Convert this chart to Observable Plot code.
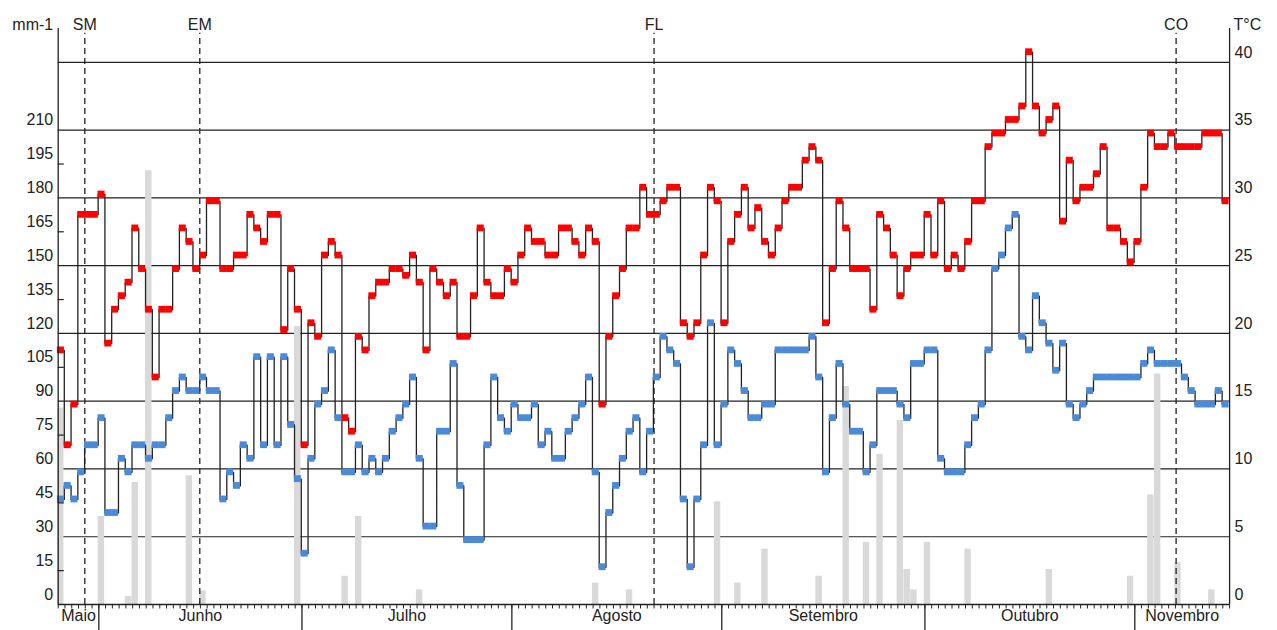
<!DOCTYPE html>
<html><head><meta charset="utf-8">
<script src="https://cdn.jsdelivr.net/npm/d3@7"></script>
<script src="https://cdn.jsdelivr.net/npm/@observablehq/plot@0.6"></script>
<style>body{margin:0;background:#fff} svg{display:block}</style>
</head><body><div id="chart"></div>
<script>
// daily maximum temperature (°C), day 0 = 26 May
const tmax = [19,12,15,29,29,29,30.5,19.5,22,23,24,28,25,22,17,22,22,25,28,27,25,26,30,30,25,25,26,26,29,28,
  27,29,29,20.5,25,22,12,21,20,26,27,26,14,13,20,19,23,24,24,25,25,24.5,26,24,19,25,24,23,24,20,
  20,23,28,24,23,23,25,24,26,28,27,27,26,26,28,28,27,26,28,27,15,20,23,25,28,28,31,29,29,30,
  31,31,21,20,21,26,31,30,21,27,29,31,28,29.5,27,26,28,30,31,31,33,34,33,21,25,30,28,25,25,25,
  22,29,28,26,23,25,26,26,29,26,30,25,26,25,27,30,30,34,35,35,36,36,37,41,37,35,36,37,28.5,33,
  30,31,31,32,34,28,28,27,25.5,27,31,35,34,34,35,34,34,34,34,35,35,35,30];
// daily minimum temperature (°C)
const tmin = [8,9,8,10,12,12,14,7,7,11,10,12,12,11,12,12,14,16,17,16,16,17,16,16,8,10,9,12,11,18.5,
  12,18.5,12,18.5,13.5,9.5,4,11,15,16,19,14,10,10,12,10,11,10,11,13,14,15,17,11,6,6,13,13,18,9,
  5,5,5,12,17,14,13,15,14,14,15,12,13,11,11,13,14,15,17,10,3,7,9,11,13,14,10,13,17,20,
  19,18,8,3,8,12,21,12,15,19,18,16,14,14,15,15,19,19,19,19,19,20,17,10,14,18,15,13,13,10,
  12,16,16,16,15,14,18,18,19,19,11,10,10,10,12,14,15,19,25,26,28,29,20,19,23,21,19.5,17.5,19.5,15,
  14,15,16,17,17,17,17,17,17,17,18,19,18,18,18,18,17,16,15,15,15,16,15];
// precipitation: day index and amount (mm)
const rainDay = [0,6,10,11,13,19,21,35,42,44,53,79,84,97,100,104,112,116,119,121,124,125,126,128,134,146,158,161,162,165,170];
const rainMm  = [87,39,3.5,54,192,57,6,123,12.5,39,6.5,9.5,6.5,45.5,9.5,24.5,12.5,96.5,27.5,66.5,81.5,15.5,6.5,27.5,24.5,15.5,12.5,48.5,102,18.5,6.5];
const monthNames = ["Maio","Junho","Julho","Agosto","Setembro","Outubro","Novembro"];
const monthStart = [0,6,36,67,98,128,159,173];
const eventNames = ["SM","EM","FL","CO"];
const eventDay = [3.93,20.91,88.0,165.1];
const mmTicks = [0,15,30,45,60,75,90,105,120,135,150,165,180,195,210];
const tTicks = [0,5,10,15,20,25,30,35,40];
const gridT = [5,10,15,20,25,30,35,40];

const nDays = tmax.length;
const days = d3.range(nDays);
const rain = rainDay.map((d, i) => ({d, mm: rainMm[i]}));
const H = 0.5;
const ink = "#222";
const font = "Liberation Sans, Arial, sans-serif";

const chart = Plot.plot({
  width: 1277, height: 630,
  marginLeft: 57.7, marginRight: 47.9, marginTop: 28, marginBottom: 26,
  x: {domain: [0, nDays], axis: null},
  y: {domain: [0, 42.5], axis: null},
  style: {fontFamily: font, fontSize: "16px", color: ink, background: "white"},
  marks: [
    Plot.ruleY(gridT, {stroke: ink, strokeWidth: 1.2}),
    Plot.rect(rain, {x1: r => r.d - 0.1, x2: r => r.d + 0.85, y1: 0, y2: r => r.mm / 6, fill: "#d9d9d9"}),
    Plot.ruleX(eventDay, {y1: 0, y2: 42.15, stroke: ink, strokeWidth: 1.3, strokeDasharray: "6,4"}),
    Plot.line(days, {x: d => d + 0.4, y: d => tmax[d] - H / 2, curve: "step", stroke: ink, strokeWidth: 1.3}),
    Plot.line(days, {x: d => d + 0.4, y: d => tmin[d] - H / 2, curve: "step", stroke: ink, strokeWidth: 1.3}),
    Plot.rect(days, {x1: d => d - 0.12, x2: d => d + 0.92, y1: d => tmax[d], y2: d => tmax[d] - H, fill: "#ff0000"}),
    Plot.rect(days, {x1: d => d - 0.12, x2: d => d + 0.92, y1: d => tmin[d], y2: d => tmin[d] - H, fill: "#4a8ad8"}),
    Plot.ruleX([0, nDays], {y1: 0, y2: 42.5, stroke: ink, strokeWidth: 1.3}),
    Plot.ruleY([0], {stroke: ink, strokeWidth: 1.3}),
    Plot.ruleY(mmTicks.filter(m => m % 30 !== 0), {y: m => m / 6, x1: 0, x2: 0.9, stroke: ink, strokeWidth: 1.2}),
    Plot.ruleX(d3.range(0, nDays + 1), {y1: 0, y2: -0.33, stroke: ink, strokeWidth: 1}),
    Plot.ruleX(monthStart.slice(1, -1), {y1: 0, y2: -1.95, stroke: ink, strokeWidth: 1.3}),
    Plot.text(monthNames, {x: (d, i) => (monthStart[i] + monthStart[i + 1]) / 2, frameAnchor: "bottom", dy: 16, fontSize: 16, fill: ink}),
    Plot.text(mmTicks, {y: m => m / 6, text: m => String(m), frameAnchor: "left", textAnchor: "end", dx: -5, dy: -10, fontSize: 16, fill: ink}),
    Plot.text(tTicks, {y: t => t, text: t => String(t), frameAnchor: "right", textAnchor: "start", dx: 5, dy: -10, fontSize: 16, fill: ink}),
    Plot.text(["mm-1"], {frameAnchor: "top-left", textAnchor: "end", dx: -5, dy: -10, fontSize: 16, fill: ink}),
    Plot.text(["T°C"], {frameAnchor: "top-right", textAnchor: "start", dx: 4, dy: -10, fontSize: 16, fill: ink}),
    Plot.text(eventNames, {x: (d, i) => eventDay[i], frameAnchor: "top", dy: -10, fontSize: 16, fill: ink})
  ]
});
document.getElementById("chart").appendChild(chart);
</script>
</body></html>
